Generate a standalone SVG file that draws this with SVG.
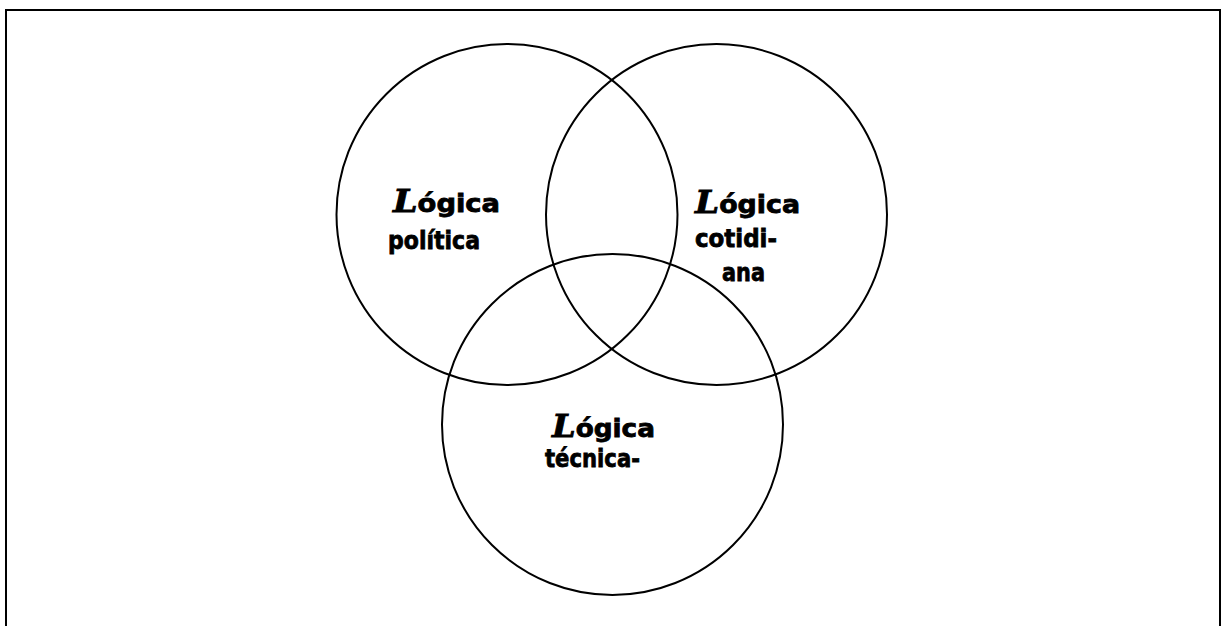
<svg xmlns="http://www.w3.org/2000/svg" width="1223" height="626" viewBox="0 0 1223 626">
<style>
.frame{fill:none;stroke:#000;stroke-width:2}
.c{fill:none;stroke:#000;stroke-width:2}
.t{font-family:"DejaVu Sans",sans-serif;font-weight:bold;font-size:25px;fill:#000;stroke:#000;stroke-width:0.8}
.L{font-family:"DejaVu Serif",serif;font-style:italic;font-weight:bold;font-size:32px}
</style>
<rect width="1223" height="626" fill="#fff"/>
<path class="frame" d="M6,627 V10 H1220 V627"/>
<g id="circle-politica">
<circle class="c" cx="507" cy="214.5" r="170.5"/>
<text class="t" x="393" y="212" textLength="107" lengthAdjust="spacingAndGlyphs"><tspan class="L">L</tspan>ógica</text>
<text class="t" x="388" y="249" textLength="92" lengthAdjust="spacingAndGlyphs">política</text>
</g>
<g id="circle-cotidiana">
<circle class="c" cx="716.5" cy="214.5" r="170.5"/>
<text class="t" x="695" y="213" textLength="105" lengthAdjust="spacingAndGlyphs"><tspan class="L">L</tspan>ógica</text>
<text class="t" x="695" y="247" textLength="82" lengthAdjust="spacingAndGlyphs">cotidi-</text>
<text class="t" x="722" y="281" textLength="43" lengthAdjust="spacingAndGlyphs">ana</text>
</g>
<g id="circle-tecnica">
<circle class="c" cx="612.5" cy="424.5" r="170.5"/>
<text class="t" x="552" y="437" textLength="103" lengthAdjust="spacingAndGlyphs"><tspan class="L">L</tspan>ógica</text>
<text class="t" x="545" y="467" textLength="95" lengthAdjust="spacingAndGlyphs">técnica-</text>
</g>
<g id="connectors"/>
</svg>
